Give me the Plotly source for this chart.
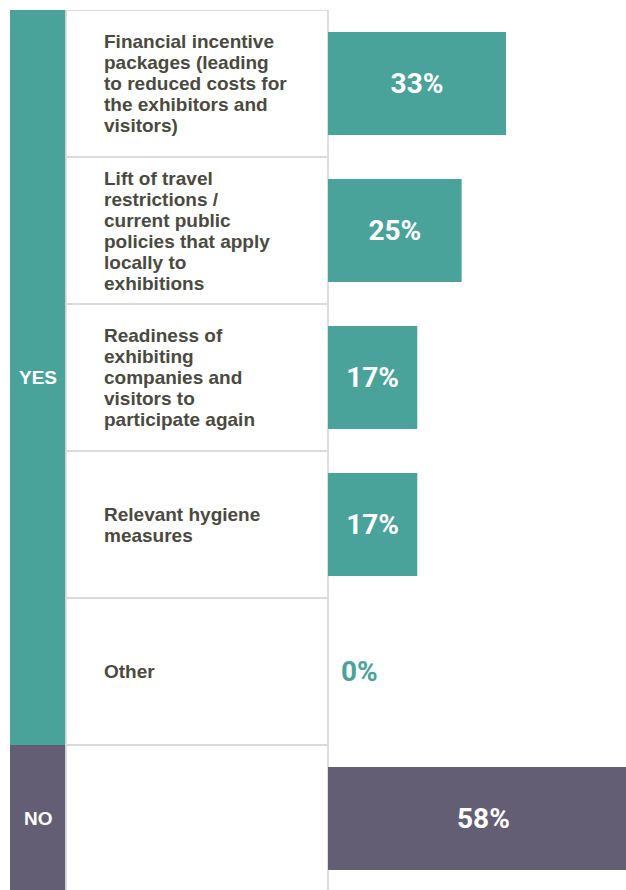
import plotly.graph_objects as go

# ---- data ----
categories = [
    "Financial incentive<br>packages (leading<br>to reduced costs for<br>the exhibitors and<br>visitors)",
    "Lift of travel<br>restrictions /<br>current public<br>policies that apply<br>locally to<br>exhibitions",
    "Readiness of<br>exhibiting<br>companies and<br>visitors to<br>participate again",
    "Relevant hygiene<br>measures",
    "Other",
    "",
]
values = [33.3, 25.0, 16.7, 16.7, 0.0, 58.3]
groups = ["YES", "YES", "YES", "YES", "YES", "NO"]
group_names = ["YES", "NO"]
x_max = 55.75

# ---- style ----
W, H = 626, 890
TOP = 10                     # page y of the table top
ROW = 147                    # row height in px
TEAL = "#4aa39a"
PURPLE = "#645e74"
TEXT = "#4b4a40"
BORDER = "#dadada"
LABEL_FONT = "Liberation Sans, Arial, sans-serif"
VALUE_FONT = "Roboto, Arial, sans-serif"
LINE_H = 21
group_color = {"YES": TEAL, "NO": PURPLE}

ykeys = [f"r{i}" for i in range(len(categories))]
px = lambda v: v / W
axis_px = H - TOP
y_bottom = -0.5 + axis_px / ROW

inside = [0 < v <= x_max for v in values]

fig = go.Figure()
fig.add_trace(go.Bar(
    y=ykeys,
    x=values,
    orientation="h",
    width=0.7,
    marker=dict(color=[group_color[g] for g in groups], line=dict(width=0)),
    texttemplate="%{x:.0f}%",
    textposition=["inside" if ok else "none" for ok in inside],
    insidetextanchor="middle",
    textfont=dict(family=VALUE_FONT, size=28, color="white", weight="bold"),
    hoverinfo="skip",
))

shapes = []
annotations = []

# values not drawn by the trace itself (zero / beyond the visible range)
for i, v in enumerate(values):
    if inside[i]:
        continue
    if v <= 0:
        annotations.append(dict(xref="x", yref="y", x=v, y=ykeys[i], text=f"<b>{v:.0f}%</b>",
                                showarrow=False, xanchor="left", yanchor="middle", xshift=11,
                                font=dict(family=VALUE_FONT, size=28, color=group_color[groups[i]])))
    else:
        annotations.append(dict(xref="x", yref="y", x=v / 2, y=ykeys[i], text=f"<b>{v:.0f}%</b>",
                                showarrow=False, xanchor="center", yanchor="middle",
                                font=dict(family=VALUE_FONT, size=28, color="white")))

# group bands at left
for g in group_names:
    idx = [i for i, gg in enumerate(groups) if gg == g]
    y0, y1 = min(idx) - 0.5, max(idx) + 0.5
    shapes.append(dict(type="rect", xref="paper", yref="y", x0=px(10), x1=px(66),
                       y0=y0, y1=y1, fillcolor=group_color[g], line=dict(width=0), layer="below"))
    annotations.append(dict(xref="paper", yref="y", x=px(38), y=(y0 + y1) / 2, text=f"<b>{g}</b>",
                            showarrow=False, xanchor="center", yanchor="middle",
                            font=dict(family=LABEL_FONT, size=19, color="white")))

# label cells
for i, lab in enumerate(categories):
    shapes.append(dict(type="rect", xref="paper", yref="y", x0=px(66), x1=px(328),
                       y0=i - 0.5, y1=i + 0.5, fillcolor="white",
                       line=dict(color=BORDER, width=1.8), layer="below"))
    if not lab:
        continue
    lines = lab.split("<br>")
    n = len(lines)
    for k, ln in enumerate(lines):
        annotations.append(dict(xref="paper", yref="y", x=px(102), y=ykeys[i], text=f"<b>{ln}</b>",
                                showarrow=False, xanchor="left", yanchor="middle", align="left",
                                yshift=((n - 1) / 2 - k) * LINE_H,
                                font=dict(family=LABEL_FONT, size=19, color=TEXT)))

fig.update_layout(
    width=W, height=H,
    margin=dict(l=0, r=0, t=0, b=0),
    paper_bgcolor="white", plot_bgcolor="rgba(0,0,0,0)",
    showlegend=False,
    hovermode=False,
    shapes=shapes,
    annotations=annotations,
    xaxis=dict(domain=[px(328), 1], range=[0, x_max], visible=False, fixedrange=True),
    yaxis=dict(domain=[0, 1 - TOP / H], type="category", categoryorder="array",
               categoryarray=ykeys, range=[y_bottom, -0.5], visible=False, fixedrange=True),
)

fig.write_html("out.html",
               config={"displayModeBar": False, "staticPlot": True},
               post_script="document.body.style.margin='0';document.body.style.overflow='hidden';")
